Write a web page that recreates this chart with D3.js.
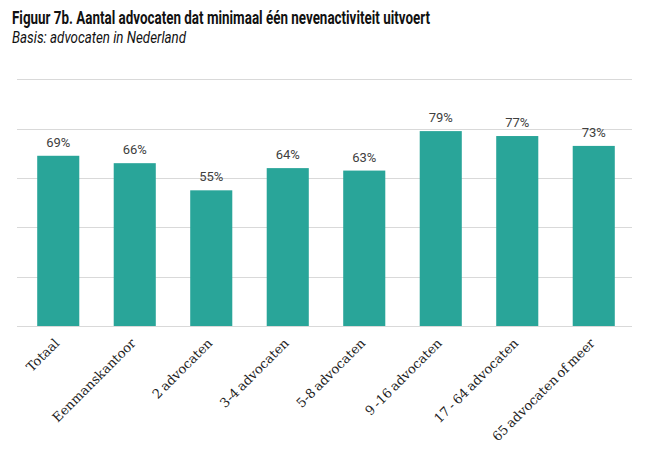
<!DOCTYPE html>
<html><head><meta charset="utf-8">
<script src="https://cdn.jsdelivr.net/npm/d3@7"></script>
<style>body{margin:0;background:#fff}</style>
</head><body>
<script>
const categories = ["Totaal","Eenmanskantoor","2 advocaten","3-4 advocaten","5-8 advocaten","9 -16 advocaten","17 - 64 advocaten","65 advocaten of meer"];
const values = [69,66,55,64,63,79,77,73];
const yTicks = [0,20,40,60,80,100];
const title = "Figuur 7b. Aantal advocaten dat minimaal één nevenactiviteit uitvoert";
const subtitle = "Basis: advocaten in Nederland";

const W=648,H=475;
const svg=d3.select("body").append("svg").attr("width",W).attr("height",H);
svg.append("text").attr("x",12).attr("y",24).text(title)
  .attr("font-family","Roboto").attr("font-weight","bold").attr("font-size",17.5).attr("fill","#111")
  .attr("textLength",418).attr("lengthAdjust","spacingAndGlyphs");
svg.append("text").attr("x",12).attr("y",43).text(subtitle)
  .attr("font-family","Roboto").attr("font-style","italic").attr("font-size",16.5).attr("fill","#111")
  .attr("textLength",174).attr("lengthAdjust","spacingAndGlyphs");

const x=d3.scaleBand().domain(categories).range([20,632]).paddingInner(0.45).paddingOuter(0.225);
const y=d3.scaleLinear().domain([0,100]).range([326,79.3]);

svg.append("g").selectAll("line").data(yTicks).join("line")
  .attr("x1",17).attr("x2",632).attr("y1",d=>Math.round(y(d))+0.5).attr("y2",d=>Math.round(y(d))+0.5)
  .attr("stroke","#d9d9d9").attr("stroke-width",1);

svg.append("g").selectAll("rect").data(values).join("rect")
  .attr("x",(d,i)=>x(categories[i])).attr("width",x.bandwidth())
  .attr("y",d=>y(d)).attr("height",d=>y(0)-y(d)).attr("fill","#29a599");

svg.append("g").selectAll("text").data(values).join("text")
  .attr("x",(d,i)=>x(categories[i])+x.bandwidth()/2).attr("y",d=>y(d)-9)
  .attr("text-anchor","middle").attr("font-family","Roboto").attr("font-size",13).attr("fill","#404040")
  .text(d=>d+"%");

svg.append("g").selectAll("text").data(categories).join("text")
  .attr("transform",d=>`translate(${x(d)+x.bandwidth()/2+2},${344}) rotate(-45)`)
  .attr("text-anchor","end").attr("font-family","DejaVu Serif").attr("font-size",13)
  .attr("word-spacing",-1.5).attr("fill","#222")
  .text(d=>d);
</script>
</body></html>
